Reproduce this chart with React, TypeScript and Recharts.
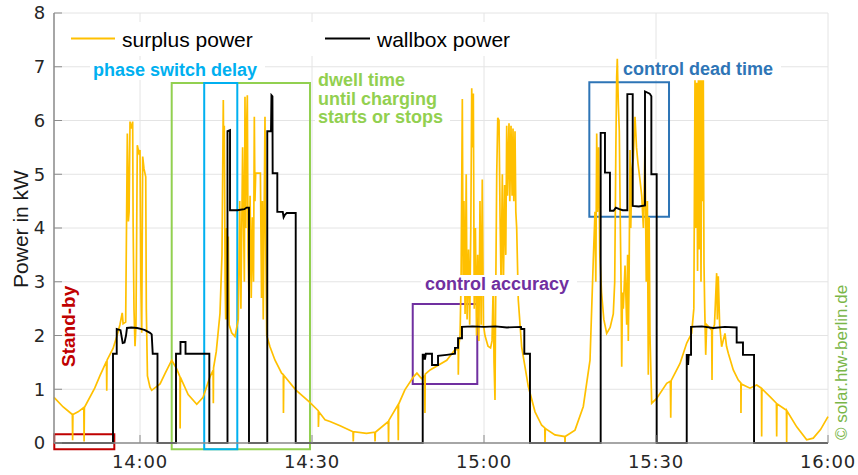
import { LineChart, Line, XAxis, YAxis, CartesianGrid, ReferenceArea } from 'recharts'

// time is in minutes after midnight (825 = 13:45)
const xTicks = [840, 870, 900, 930, 960]
const yTicks = [0, 1, 2, 3, 4, 5, 6, 7, 8]

// [minute, kW]
const surplusPower: [number, number][] = [
  [825.0, 0.85], [826.6, 0.67], [828.2, 0.53], [828.25, 0.05], [828.3, 0.53], [829.2, 0.58],
  [830.2, 0.66], [830.25, 0.03], [830.3, 0.66], [832.1, 1.02], [833.0, 1.25],
  [834.15, 1.52], [834.2, 0.97], [834.25, 1.54], [835.3, 1.76], [836.0, 2.0], [836.5, 2.2],
  [836.9, 2.42], [837.05, 2.22], [837.5, 2.25], [837.79, 5.76], [837.9, 5.0], [837.97, 4.12],
  [838.1, 4.3], [838.26, 5.98], [838.5, 5.85], [838.72, 5.98], [838.8, 4.1], [838.95, 2.5],
  [839.13, 1.8], [839.3, 2.2], [839.53, 5.54], [839.8, 5.4], [840.0, 5.45], [840.15, 3.0],
  [840.3, 2.05], [840.47, 5.33], [840.7, 5.1], [841.0, 4.95], [841.1, 2.5], [841.3, 1.25],
  [841.74, 1.04], [842.04, 0.98], [843.5, 1.1], [844.4, 1.3], [845.53, 1.54], [846.3, 1.4],
  [846.98, 1.23], [847.0, 0.27], [847.05, 1.22], [848.4, 0.9], [849.9, 0.72], [851.0, 0.85],
  [852.2, 1.23], [852.75, 1.35], [852.79, 0.74], [852.83, 1.4], [853.3, 1.7], [853.95, 2.41],
  [854.3, 3.5], [854.53, 6.38], [854.6, 5.2], [854.7, 5.9], [854.85, 3.0], [854.95, 2.3],
  [855.1, 4.0], [855.2, 2.3], [855.4, 3.84], [855.55, 2.2], [855.99, 2.05], [856.57, 1.98],
  [857.14, 2.3], [857.4, 4.5], [857.6, 2.5], [857.9, 5.5], [858.2, 3.0], [858.31, 6.44],
  [858.45, 4.0], [858.6, 5.9], [858.72, 6.47], [858.85, 3.5], [859.01, 2.66], [859.2, 4.6],
  [859.4, 2.7], [859.6, 4.2], [859.8, 3.0], [859.94, 6.07], [860.05, 4.5], [860.18, 5.02],
  [861.0, 5.02], [861.2, 2.7], [861.35, 4.5], [861.5, 2.3], [861.65, 4.2], [861.8, 6.07],
  [861.95, 3.5], [862.1, 2.0], [862.67, 1.79], [863.55, 1.54], [864.7, 1.3], [865.0, 1.27],
  [865.02, 0.56], [865.08, 1.26], [867.15, 0.99], [869.48, 0.77], [871.1, 0.6], [871.12, 0.3],
  [871.2, 0.58], [872.27, 0.43], [873.14, 0.4], [874.9, 0.32], [877.15, 0.21], [877.2, 0.03],
  [877.25, 0.21], [879.5, 0.18], [880.95, 0.2], [881.0, 0.03], [881.05, 0.2], [883.3, 0.4],
  [883.35, 0.02], [883.4, 0.42], [885.0, 0.71], [885.05, 0.05], [885.1, 0.72], [886.2, 0.99],
  [887.7, 1.23], [888.3, 1.3], [889.1, 1.2], [889.65, 1.25], [889.7, 0.56], [889.75, 1.28],
  [890.6, 1.36], [893.5, 1.54], [894.9, 1.73], [895.5, 1.75], [895.52, 1.27], [895.6, 1.8],
  [895.82, 2.0], [896.0, 3.0], [896.22, 6.4], [896.35, 3.0], [896.5, 4.5], [896.7, 2.4],
  [896.9, 5.0], [897.05, 2.3], [897.3, 3.6], [897.5, 2.2], [897.7, 4.0], [897.86, 6.6],
  [898.0, 5.5], [898.14, 6.5], [898.3, 2.5], [898.5, 4.0], [898.7, 2.0], [898.9, 3.5],
  [899.1, 1.9], [899.3, 4.5], [899.5, 2.2], [899.7, 4.9], [899.9, 2.2], [900.17, 2.0],
  [900.7, 1.8], [901.14, 1.77], [901.4, 1.9], [901.62, 3.0], [901.75, 1.5], [901.92, 0.8],
  [902.0, 2.2], [902.22, 5.0], [902.4, 6.05], [902.62, 6.0], [902.8, 4.2], [902.97, 3.0],
  [903.2, 5.0], [903.37, 2.8], [903.6, 4.8], [903.8, 3.5], [903.96, 5.9], [904.1, 4.6],
  [904.36, 5.95], [904.5, 4.5], [904.71, 5.9], [904.9, 4.6], [905.06, 5.85], [905.2, 4.5],
  [905.41, 5.8], [905.55, 4.3], [905.7, 4.0], [905.98, 2.66], [906.57, 1.79], [907.73, 1.05],
  [908.9, 0.58], [910.06, 0.33], [910.6, 0.28], [910.64, 0.02], [910.7, 0.27], [912.38, 0.15],
  [914.1, 0.12], [914.13, 0.0], [914.16, 0.12], [915.87, 0.24], [917.32, 0.68], [918.49, 1.54],
  [919.06, 3.4], [919.36, 4.3], [919.5, 3.0], [919.66, 5.76], [919.8, 4.3], [920.0, 5.5],
  [920.2, 3.5], [920.5, 2.8], [920.9, 2.3], [921.4, 2.04], [922.0, 2.15], [922.55, 2.4],
  [922.8, 3.0], [923.0, 5.5], [923.14, 6.8], [923.25, 7.15], [923.43, 6.3], [923.6, 5.8],
  [923.75, 4.3], [923.9, 3.0], [924.02, 1.42], [924.15, 2.8], [924.3, 2.5], [924.6, 3.3],
  [924.89, 2.2], [925.05, 3.5], [925.17, 1.9], [925.3, 3.0], [925.47, 5.45], [925.6, 4.0],
  [925.8, 5.1], [926.04, 5.3], [926.34, 6.07], [926.6, 5.5], [926.86, 5.2], [927.2, 4.9],
  [927.51, 4.6], [927.8, 4.0], [928.08, 5.5], [928.3, 3.0], [928.5, 4.5], [928.66, 1.27],
  [928.8, 4.2], [928.95, 2.0], [929.25, 0.74], [930.12, 0.83], [931.87, 1.11], [932.5, 1.15],
  [932.57, 0.47], [932.64, 1.16], [934.19, 1.48], [935.36, 1.86], [936.22, 2.04], [936.6, 2.5],
  [936.8, 6.75], [936.95, 4.0], [937.1, 6.7], [937.25, 3.2], [937.4, 6.75], [937.55, 3.6],
  [937.7, 6.75], [937.85, 3.0], [938.0, 6.75], [938.15, 4.5], [938.25, 6.75], [938.37, 3.34],
  [938.5, 2.5], [938.67, 1.64], [938.84, 2.2], [939.3, 2.15], [939.71, 2.1], [939.77, 1.17],
  [939.83, 2.1], [940.2, 2.2], [940.58, 3.16], [940.7, 2.3], [940.86, 3.1], [941.1, 2.2],
  [941.45, 1.79], [942.03, 2.04], [942.3, 1.8], [942.61, 1.67], [943.48, 1.36], [944.35, 1.17],
  [944.8, 1.12], [944.82, 0.56], [944.86, 1.1], [946.39, 1.02], [947.56, 1.08], [948.4, 1.02],
  [948.43, 0.12], [948.47, 1.01], [950.0, 0.85], [951.0, 0.74], [951.05, 0.12], [951.1, 0.73],
  [952.75, 0.61], [952.79, 0.0], [952.83, 0.6], [954.54, 0.3], [956.28, 0.06], [957.43, 0.09],
  [958.7, 0.25], [960.0, 0.49],
]

// [minute, kW]
const wallboxPower: [number, number][] = [
  [825, 0], [835.29, 0], [835.29, 1.66], [835.94, 1.66], [835.94, 2.12], [836.6, 2.1],
  [836.98, 1.86], [837.3, 1.87], [837.56, 2.0], [837.73, 2.14], [838.5, 2.15], [839.5, 2.14],
  [840.3, 2.12], [840.87, 2.1], [841.74, 2.05], [842.04, 2.02], [842.22, 1.66], [843.05, 1.66],
  [843.05, 0], [846.28, 0], [846.28, 1.66], [847.06, 1.66], [847.06, 1.88], [847.94, 1.88],
  [847.94, 1.66], [852.09, 1.66], [852.09, 0], [855.26, 0], [855.26, 5.8], [855.7, 5.82],
  [855.7, 4.33], [857.0, 4.33], [858.2, 4.35], [858.6, 4.38], [859.01, 4.38], [859.01, 0],
  [862.2, 0], [862.2, 5.8], [862.85, 5.8], [862.93, 6.47], [863.1, 6.45], [863.14, 5.02],
  [863.95, 5.02], [863.95, 4.3], [864.9, 4.3], [865.05, 4.2], [865.3, 4.25], [865.6, 4.28],
  [867.16, 4.28], [867.16, 0], [889.31, 0], [889.31, 1.66], [889.45, 1.55], [889.55, 1.66],
  [889.7, 1.55], [889.85, 1.66], [890.93, 1.66], [890.93, 1.45], [891.98, 1.45], [891.98, 1.62],
  [893.5, 1.64], [894.94, 1.66], [894.94, 1.77], [895.47, 1.77], [895.47, 1.95], [896.16, 1.95],
  [896.16, 2.16], [898.0, 2.17], [900.0, 2.16], [902.0, 2.17], [904.0, 2.15], [906.45, 2.16],
  [906.5, 2.12], [907.03, 2.12], [907.03, 1.66], [908.02, 1.66], [908.02, 0], [920.35, 0],
  [920.35, 5.77], [921.1, 5.77], [921.1, 5.03], [921.97, 5.03], [921.97, 4.32], [922.6, 4.32],
  [923.0, 4.38], [923.6, 4.35], [924.2, 4.33], [925.0, 4.33], [925.0, 6.49], [925.94, 6.49],
  [925.94, 4.41], [927.0, 4.4], [928.08, 4.42], [928.08, 6.54], [928.9, 6.5], [929.19, 6.45],
  [929.19, 5.0], [930.12, 5.0], [930.12, 0], [935.36, 0], [935.36, 1.64], [935.58, 1.64],
  [935.6, 1.45], [935.7, 1.64], [936.11, 1.64], [936.11, 2.16], [938, 2.17], [940, 2.14],
  [942, 2.16], [944.07, 2.15], [944.07, 1.87], [945.17, 1.87], [945.17, 1.64], [947.1, 1.64],
  [947.1, 0], [960, 0],
]

// annotation frames, in chart units
const boxes = [
  { x1: 825.05, x2: 835.52, y1: -0.117, y2: 0.162, color: '#c00000' },
  { x1: 845.53, x2: 869.65, y1: -0.117, y2: 6.7, color: '#92d050' },
  { x1: 851.2, x2: 856.97, y1: -0.117, y2: 6.7, color: '#00b0f0' },
  { x1: 887.57, x2: 898.83, y1: 1.098, y2: 2.586, color: '#7030a0' },
  { x1: 918.37, x2: 932.27, y1: 4.21, y2: 6.71, color: '#2e75b6' },
]

const toPoints = (rows: [number, number][]) => rows.map(([t, v]) => ({ t, v }))
const fmtTime = (m: number) => `${Math.floor(m / 60)}:${String(Math.round(m % 60)).padStart(2, '0')}`

const AXIS = '#8c8c8c'
const sans = 'Liberation Sans, Arial, sans-serif'

const Overlay = () => (
  <svg width={858} height={475} style={{ position: 'absolute', left: 0, top: 0, pointerEvents: 'none' }}>
    <rect x={62} y={22} width={460} height={34} fill="#fff" />
    <line x1={71} x2={115} y1={38.5} y2={38.5} stroke="#ffc000" strokeWidth={2} />
    <text x={122} y={47} fontFamily={sans} fontSize={21} fill="#000">surplus power</text>
    <line x1={325} x2={370} y1={38.5} y2={38.5} stroke="#000" strokeWidth={2} />
    <text x={377} y={47} fontFamily={sans} fontSize={21} fill="#000">wallbox power</text>

    <rect x={90} y={60} width={175} height={20} fill="#fff" />
    <text x={93} y={76} fontFamily={sans} fontSize={18} fontWeight="bold" fill="#00b0f0">phase switch delay</text>

    <rect x={315} y={71} width={135} height={57} fill="#fff" />
    <text fontFamily={sans} fontSize={18} fontWeight="bold" fill="#92d050">
      <tspan x={318} y={86}>dwell time</tspan>
      <tspan x={318} y={104.5}>until charging</tspan>
      <tspan x={318} y={123}>starts or stops</tspan>
    </text>

    <rect x={421} y={275} width={156} height={21} fill="#fff" />
    <text x={425} y={290} fontFamily={sans} fontSize={18} fontWeight="bold" fill="#7030a0">control accuracy</text>

    <rect x={619} y={59} width={162} height={21} fill="#fff" />
    <text x={623} y={75} fontFamily={sans} fontSize={18} fontWeight="bold" fill="#2e75b6">control dead time</text>

    <text transform="translate(75, 367) rotate(-90)" fontFamily={sans} fontSize={19} fontWeight="bold" fill="#c00000">Stand-by</text>
    <text transform="translate(847, 440) rotate(-90)" fontFamily={sans} fontSize={17} fill="#7ab648">© solar.htw-berlin.de</text>
    <text transform="translate(28, 229) rotate(-90)" textAnchor="middle" fontFamily={sans} fontSize={21} fill="#1a1a1a">Power in kW</text>
  </svg>
)

export default function App() {
  const tickFont = { fontSize: 18, fill: '#262626', fontFamily: 'DejaVu Sans, sans-serif', letterSpacing: 0.8 }
  return (
    <div style={{ position: 'absolute', left: 0, top: 0, width: 858, height: 475, background: '#fff' }}>
      <LineChart width={858} height={475} margin={{ top: 13, right: 30, bottom: 0, left: 4 }}>
        <CartesianGrid stroke="#e4e4e4" />
        <XAxis
          dataKey="t"
          type="number"
          domain={[825, 960]}
          ticks={xTicks}
          tickFormatter={fmtTime}
          height={32}
          tick={tickFont}
          tickSize={-8}
          tickMargin={20}
          tickLine={{ stroke: AXIS }}
          axisLine={{ stroke: AXIS, strokeWidth: 1.5 }}
        />
        <XAxis
          xAxisId="top"
          orientation="top"
          type="number"
          domain={[825, 960]}
          ticks={xTicks}
          height={0}
          tick={false}
          tickSize={-8}
          tickLine={{ stroke: AXIS }}
          axisLine={{ stroke: AXIS, strokeWidth: 1.5 }}
        />
        <YAxis
          type="number"
          domain={[0, 8]}
          ticks={yTicks}
          width={50}
          tick={tickFont}
          tickSize={-8}
          tickMargin={16}
          tickLine={{ stroke: AXIS }}
          axisLine={{ stroke: AXIS, strokeWidth: 1.5 }}
        />
        <YAxis
          yAxisId="right"
          orientation="right"
          type="number"
          domain={[0, 8]}
          ticks={yTicks}
          width={0}
          tick={false}
          tickSize={-8}
          tickLine={{ stroke: AXIS }}
          axisLine={{ stroke: AXIS, strokeWidth: 1.5 }}
        />
        <Line
          data={toPoints(surplusPower)}
          dataKey="v"
          type="linear"
          stroke="#ffc000"
          strokeWidth={1.7}
          dot={false}
          activeDot={false}
          isAnimationActive={false}
        />
        <Line
          data={toPoints(wallboxPower)}
          dataKey="v"
          type="linear"
          stroke="#000"
          strokeWidth={1.9}
          dot={false}
          activeDot={false}
          isAnimationActive={false}
        />
        {boxes.map((b, i) => (
          <ReferenceArea
            key={i}
            x1={b.x1}
            x2={b.x2}
            y1={b.y1}
            y2={b.y2}
            ifOverflow="visible"
            fill="none"
            stroke={b.color}
            strokeWidth={2}
          />
        ))}
      </LineChart>
      <Overlay />
    </div>
  )
}
